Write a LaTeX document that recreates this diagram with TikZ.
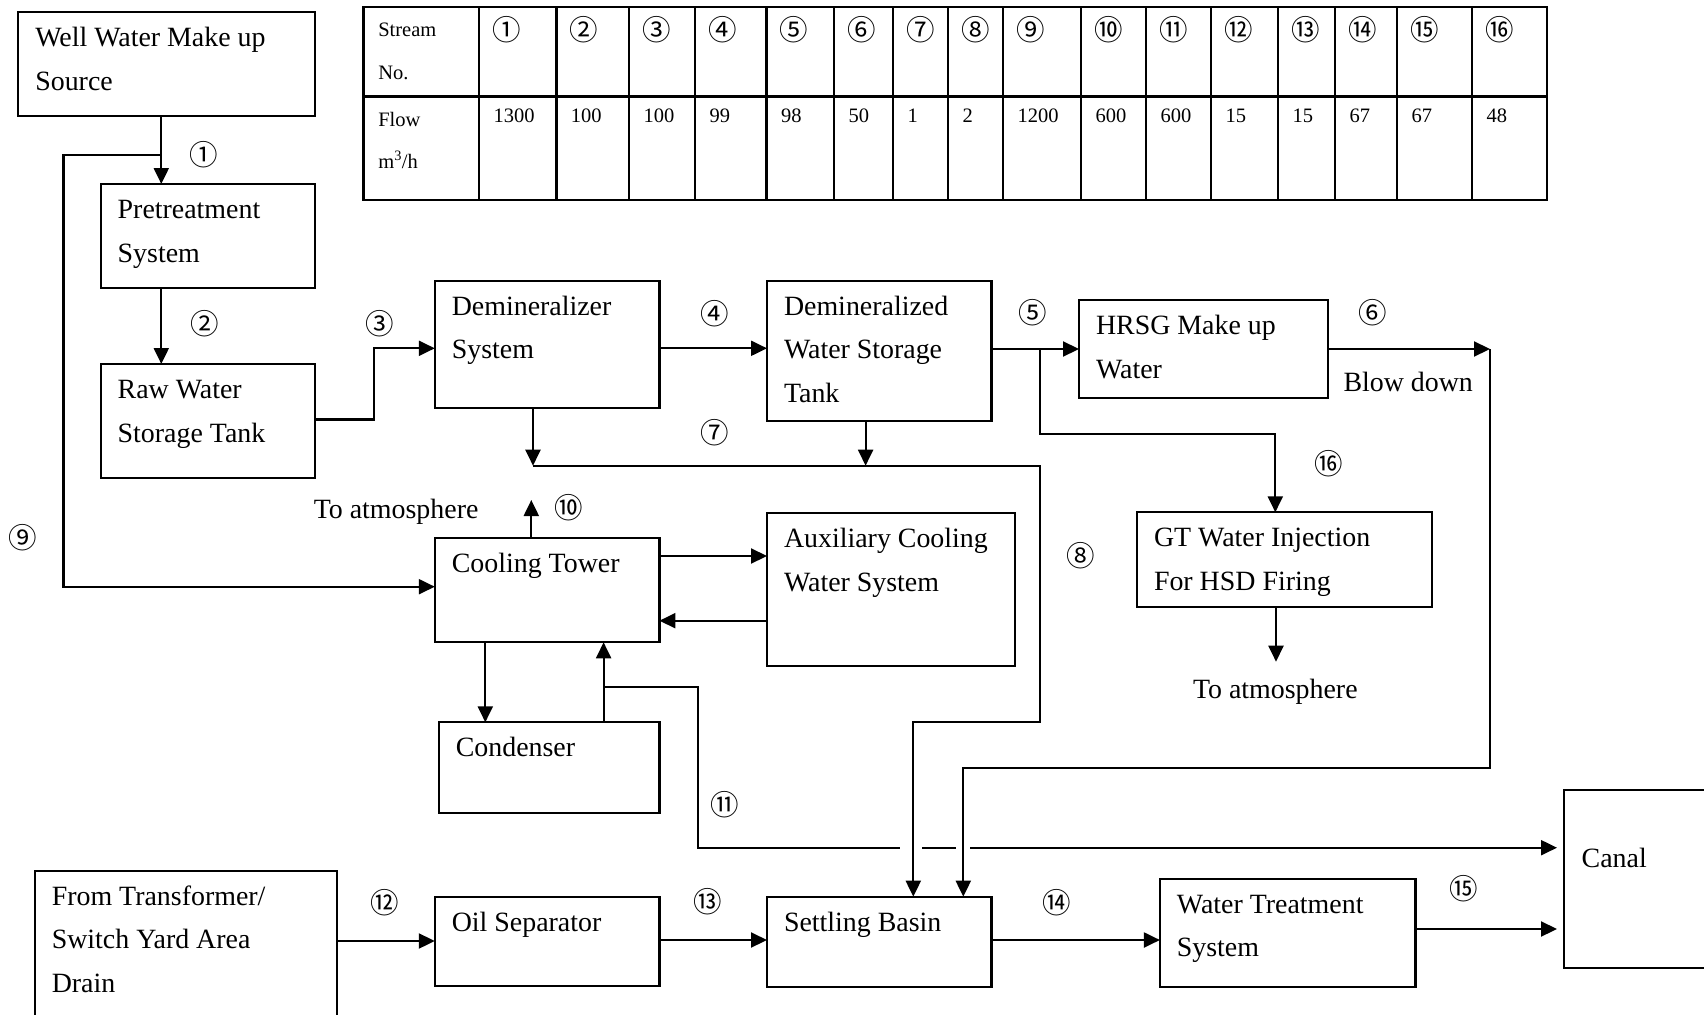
\documentclass[tikz,border=0pt]{standalone}
\usepackage{fontspec}
\setmainfont{Liberation Serif}
\newfontfamily\cjkfont{Noto Sans CJK SC}
\usetikzlibrary{arrows.meta,calc}

\tikzset{
  box/.style={draw, line width=2.2pt, inner sep=0pt, outer sep=0pt},
  ln/.style={line width=2.1pt},
  arr/.style={ln, -{Triangle[length=16pt,width=15pt]}},
  txt/.style={font=\fontsize{27.9}{33}\selectfont, inner sep=0pt, outer sep=0pt, anchor=base west},
  ttxt/.style={font=\fontsize{20.5}{25}\selectfont, inner sep=0pt, outer sep=0pt, anchor=base west},
  num/.style={font=\cjkfont\fontsize{28.5}{28.5}\selectfont, inner sep=0pt, outer sep=0pt, anchor=center},
  tbl/.style={line width=2.7pt},
}

\newcommand\mkbox[5]{%
  \node[box, minimum width={(#4)-(#2)}, minimum height={(#5)-(#3)}] (#1) at ({((#2)+(#4))/2},{((#3)+(#5))/2}) {};}
\newcommand\blines[2]{%
  \foreach \t [count=\i] in {#2} {
    \node[txt] (#1-t\i) at ($(#1.north west)+(17,{34.5+43.5*(\i-1)})$) {\t};
  }}

\begin{document}
\begin{tikzpicture}[x=1pt,y=-1pt]
\useasboundingbox (0,0) rectangle (1704,1014);
\clip (0,0) rectangle (1704,1014);

% ---------- boxes ----------
\mkbox{well}{18.3}{12.3}{315.3}{116.3}
\mkbox{pre}{100.7}{184}{315.3}{288.3}
\mkbox{raw}{100.7}{364}{315.3}{478}
\mkbox{demin}{434.8}{280.7}{659.4}{408.3}
\mkbox{dwst}{767}{280.7}{991.5}{420.7}
\mkbox{hrsg}{1079}{300}{1327.8}{398.3}
\mkbox{gt}{1137}{512.3}{1432}{606.7}
\mkbox{ct}{434.8}{538.3}{659.4}{642.3}
\mkbox{aux}{767}{513}{1015}{666}
\mkbox{cond}{438.8}{722.3}{659.4}{812.7}
\mkbox{trans}{34.8}{870.7}{337}{1030}
\mkbox{oil}{434.8}{896.7}{659.4}{986}
\mkbox{settle}{767}{896.7}{991.5}{986.7}
\mkbox{wts}{1159.9}{878.7}{1415.5}{986.7}
\mkbox{canal}{1564}{790}{1730}{968.3}

\blines{well}{Well Water Make up,Source}
\blines{pre}{Pretreatment,System}
\blines{raw}{Raw Water,Storage Tank}
\blines{demin}{Demineralizer,System}
\blines{dwst}{Demineralized,Water Storage,Tank}
\blines{hrsg}{HRSG Make up,Water}
\blines{gt}{GT Water Injection,For HSD Firing}
\blines{ct}{Cooling Tower}
\blines{aux}{Auxiliary Cooling,Water System}
\blines{cond}{Condenser}
\blines{trans}{From Transformer/,Switch Yard Area,Drain}
\blines{oil}{Oil Separator}
\blines{settle}{Settling Basin}
\blines{wts}{Water Treatment,System}
\node[txt] (canal-t1) at (1581.7,867.3) {Canal};

% ---------- connectors ----------
\coordinate (j9) at (161.3,155.3);
\coordinate (c9) at (63.5,155.3);
\coordinate (c9b) at (63.5,586.7);
\draw[arr] (well.south -| j9) -- (pre.north -| j9);
\draw[arr] (j9) -- (c9) -- (c9b) -- (c9b -| ct.west);

\coordinate (x2) at (161.3,300);
\draw[arr] (pre.south -| x2) -- (raw.north -| x2);

\coordinate (c3a) at (373.8,419.5);
\coordinate (c3b) at (373.8,348.3);
\draw[arr] (raw.east |- c3a) -- (c3a) -- (c3b) -- (demin.west |- c3b);

\coordinate (y4) at (700,348.3);
\draw[arr] (demin.east |- y4) -- (dwst.west |- y4);

\coordinate (j5) at (1039.7,349);
\draw[arr] (dwst.east |- j5) -- (hrsg.west |- j5);
\coordinate (c16a) at (1039.7,433.7);
\coordinate (c16b) at (1275.3,433.7);
\draw[arr] (j5) -- (c16a) -- (c16b) -- (gt.north -| c16b);

\coordinate (c6) at (1490,349);
\draw[arr] (hrsg.east |- c6) -- (c6);
\coordinate (c6b) at (1490,768.3);
\coordinate (c6c) at (963.3,768.3);
\draw[arr] (c6) -- (c6b) -- (c6c) -- (settle.north -| c6c);

\coordinate (c7a) at (533,465.7);
\coordinate (c7b) at (865.6,465.7);
\coordinate (c7c) at (1039.7,465.7);
\coordinate (c8a) at (1039.7,721.7);
\coordinate (c8b) at (913.3,721.7);
\draw[arr] (demin.south -| c7a) -- (c7a);
\draw[arr] (dwst.south -| c7b) -- (c7b);
\draw[arr] (c7a) -- (c7c) -- (c8a) -- (c8b) -- (settle.north -| c8b);

\coordinate (c10) at (531.3,500);
\draw[arr] (ct.north -| c10) -- (c10);

\coordinate (ya) at (700,556);
\coordinate (yb) at (700,620.7);
\draw[arr] (ct.east |- ya) -- (aux.west |- ya);
\draw[arr] (aux.west |- yb) -- (ct.east |- yb);

\coordinate (xc) at (485.3,680);
\coordinate (xd) at (603.6,687.3);
\draw[arr] (ct.south -| xc) -- (cond.north -| xc);
\draw[arr] (cond.north -| xd) -- (ct.south -| xd);

\coordinate (c11a) at (698,687.3);
\coordinate (c11b) at (698,847.7);
\coordinate (g1) at (900,847.7);
\coordinate (g2) at (922.3,847.7);
\coordinate (g3) at (955.7,847.7);
\coordinate (g4) at (970,847.7);
\draw[ln] (xd) -- (c11a) -- (c11b) -- (g1);
\draw[ln] (g2) -- (g3);
\draw[arr, shorten >=7pt] (g4) -- (canal.west |- g4);

\coordinate (y12) at (380,941);
\draw[arr] (trans.east |- y12) -- (oil.west |- y12);
\coordinate (y13) at (700,940);
\draw[arr] (oil.east |- y13) -- (settle.west |- y13);
\draw[arr] (settle.east |- y13) -- (wts.west |- y13);
\coordinate (y15) at (1480,929);
\draw[arr, shorten >=7pt] (wts.east |- y15) -- (canal.west |- y15);

\coordinate (cgt) at (1276,661.7);
\draw[arr] (gt.south -| cgt) -- (cgt);

% ---------- free labels ----------
\node[txt] (atm1) at (313.8,518.3) {To atmosphere};
\node[txt] (atm2) at (1193,698) {To atmosphere};
\node[txt] (blow) at (1343.5,391.7) {Blow down};

\node[num] (n1) at (203.7,155) {①};
\node[num] (n2) at (204.3,323.8) {②};
\node[num] (n3) at (379.3,323.8) {③};
\node[num] (n4) at (714.7,314) {④};
\node[num] (n5) at (1032.5,313) {⑤};
\node[num] (n6) at (1372.7,313) {⑥};
\node[num] (n7) at (714.7,432.5) {⑦};
\node[num] (n8) at (1080.8,555.8) {⑧};
\node[num] (n9) at (22.3,537.5) {⑨};
\node[num] (n10) at (569,508) {⑩};
\node[num] (n11) at (725,805) {⑪};
\node[num] (n12) at (385,902.5) {⑫};
\node[num] (n13) at (708,901.7) {⑬};
\node[num] (n14) at (1057,903) {⑭};
\node[num] (n15) at (1463.3,888.3) {⑮};
\node[num] (n16) at (1329,463.3) {⑯};

% ---------- table ----------
\draw[tbl] (363.3,7) rectangle (1547,200);
\draw[tbl] (363.3,96.7) -- (1547,96.7);
\foreach \x in {479,556.3,629,695,766.7,834,893,948,1003,1081,1146,1211,1278,1335,1397,1472}
  \draw[tbl] (\x,7) -- (\x,200);
\node[ttxt] (th1) at (378.3,36.7) {Stream};
\node[ttxt] (th2) at (378.3,80) {No.};
\node[ttxt] (th3) at (378.3,126.7) {Flow};
\node[ttxt] (th4) at (378.3,168.3) {m\textsuperscript{3}/h};
\foreach \x/\s/\v [count=\i] in {479/①/1300,556.3/②/100,629/③/100,695/④/99,766.7/⑤/98,834/⑥/50,893/⑦/1,948/⑧/2,1003/⑨/1200,1081/⑩/600,1146/⑪/600,1211/⑫/15,1278/⑬/15,1335/⑭/67,1397/⑮/67,1472/⑯/48} {
  \node[num] (ts\i) at ({\x+27.5},30) {\s};
  \node[ttxt] (tv\i) at ({\x+14.5},122) {\v};
}
\end{tikzpicture}
\end{document}
